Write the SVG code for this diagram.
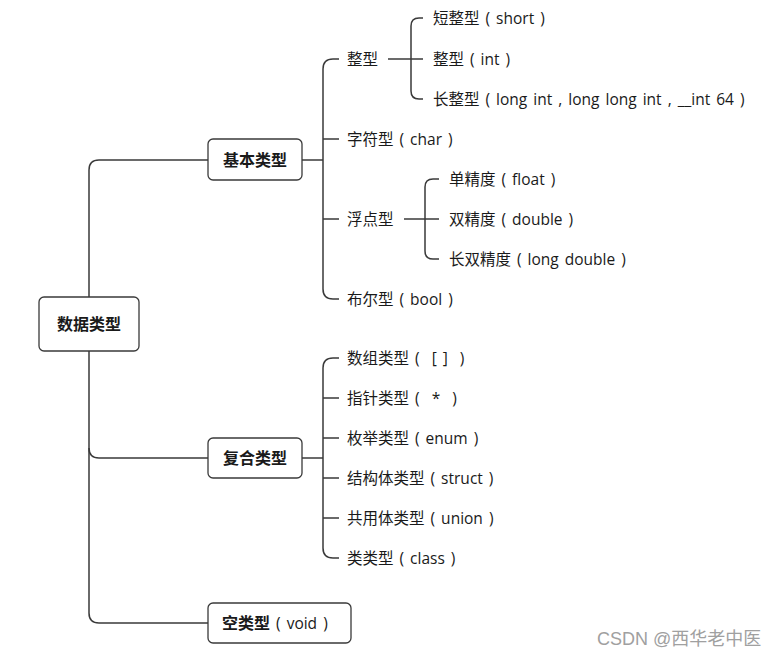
<svg xmlns="http://www.w3.org/2000/svg" width="783" height="658" viewBox="0 0 783 658">
<style>
.box{fill:#fff;stroke:#3a3a3a;stroke-width:1.3}
.ln{fill:none;stroke:#3a3a3a;stroke-width:1.5}
text{font-family:"Open Sans","Noto Sans CJK SC",sans-serif;fill:#1a1a1a;dominant-baseline:central;white-space:pre}
.t{font-size:15.5px;word-spacing:2px}
.b{font-size:16px;font-weight:bold;word-spacing:0}
.wm{font-family:"Liberation Sans","Noto Sans CJK SC",sans-serif;font-size:18px;fill:#a0a0a0;dominant-baseline:auto}
</style>
<rect width="783" height="658" fill="#fff"/>
<g id="connectors">
<path class="ln" d="M89 297 V170 Q89 160 99 160 H208"/>
<path class="ln" d="M89 351 V613 Q89 623 99 623 H208"/>
<path class="ln" d="M89 448 Q89 458 99 458 H208"/>
<path class="ln" d="M302 160 H323"/>
<path class="ln" d="M339 59 H333 Q323 59 323 69 V289 Q323 299 333 299 H339 M323 139 H339 M323 219 H339"/>
<path class="ln" d="M388 59 H411"/>
<path class="ln" d="M423 18 H419 Q411 18 411 26 V91 Q411 99 419 99 H423 M411 59 H423"/>
<path class="ln" d="M404 219 H425"/>
<path class="ln" d="M439 179 H433 Q425 179 425 187 V251 Q425 259 433 259 H439 M425 219 H439"/>
<path class="ln" d="M302 458 H323"/>
<path class="ln" d="M339 358 H333 Q323 358 323 368 V548 Q323 558 333 558 H339 M323 398 H339 M323 438 H339 M323 478 H339 M323 518 H339"/>
</g>
<g id="root"><rect class="box" x="39" y="297" width="100" height="54" rx="5"/><text class="b" x="89" y="324" text-anchor="middle">数据类型</text></g>
<g id="basic"><rect class="box" x="208" y="139" width="94" height="41" rx="5"/><text class="b" x="255" y="160" text-anchor="middle">基本类型</text></g>
<g id="compound"><rect class="box" x="208" y="438" width="94" height="40" rx="5"/><text class="b" x="255" y="458" text-anchor="middle">复合类型</text></g>
<g id="void"><rect class="box" x="208" y="603" width="143" height="40" rx="5"/><text x="222" y="623"><tspan class="b">空类型</tspan><tspan class="t"> ( void )</tspan></text></g>
<g id="int"><text class="t" x="347" y="59">整型</text></g>
<g id="short"><text class="t" x="433" y="18">短整型 ( short )</text></g>
<g id="int2"><text class="t" x="433" y="59">整型 ( int )</text></g>
<g id="long"><text class="t" x="433" y="99">长整型 ( long int , long long int , __int 64 )</text></g>
<g id="char"><text class="t" x="347" y="139">字符型 ( char )</text></g>
<g id="floatt"><text class="t" x="347" y="219">浮点型</text></g>
<g id="float"><text class="t" x="449" y="179">单精度 ( float )</text></g>
<g id="double"><text class="t" x="449" y="219">双精度 ( double )</text></g>
<g id="ldouble"><text class="t" x="449" y="259">长双精度 ( long double )</text></g>
<g id="bool"><text class="t" x="347" y="299">布尔型 ( bool )</text></g>
<g id="array"><text class="t" x="347" y="358">数组类型 (  [ ]  )</text></g>
<g id="pointer"><text class="t" x="347" y="398">指针类型 (  *  )</text></g>
<g id="enum"><text class="t" x="347" y="438">枚举类型 ( enum )</text></g>
<g id="struct"><text class="t" x="347" y="478">结构体类型 ( struct )</text></g>
<g id="union"><text class="t" x="347" y="518">共用体类型 ( union )</text></g>
<g id="class"><text class="t" x="347" y="558">类类型 ( class )</text></g>
<text class="wm" x="597" y="645">CSDN @西华老中医</text>
</svg>
